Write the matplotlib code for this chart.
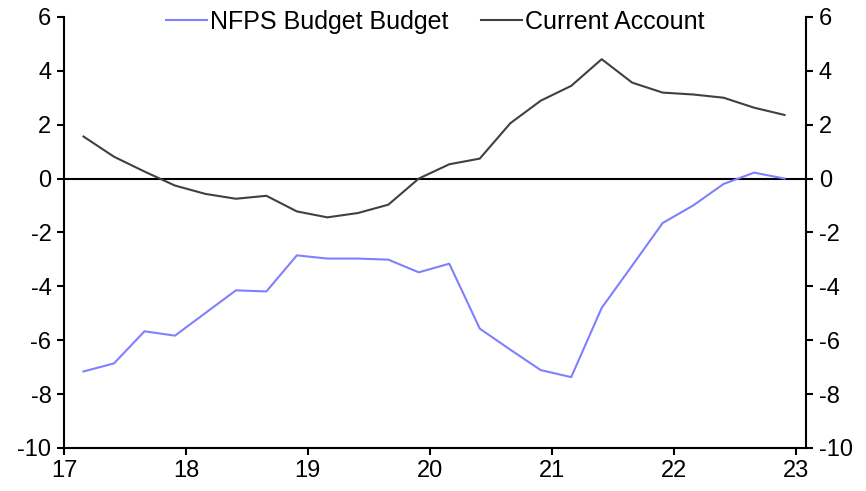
import matplotlib
matplotlib.use('Agg')
import matplotlib.pyplot as plt

plt.rcParams['font.family'] = ['Liberation Sans', 'DejaVu Sans']
plt.rcParams['axes.unicode_minus'] = False

# quarterly data, 2017Q1 .. 2022Q4 (% of GDP)
years = [2017, 2018, 2019, 2020, 2021, 2022]
quarters = [1, 2, 3, 4]
nfps_budget = [-7.16, -6.86, -5.67, -5.83,
               -4.99, -4.15, -4.19, -2.85,
               -2.97, -2.97, -3.01, -3.48,
               -3.16, -5.57, -6.35, -7.11,
               -7.37, -4.80, -3.23, -1.65,
               -1.00, -0.20, 0.22, 0.0]
current_account = [1.56, 0.81, 0.26, -0.26,
                   -0.57, -0.75, -0.64, -1.22,
                   -1.44, -1.28, -0.97, 0.0,
                   0.53, 0.74, 2.05, 2.89,
                   3.44, 4.43, 3.56, 3.19,
                   3.12, 3.00, 2.63, 2.36]
xtick_labels = ['17', '18', '19', '20', '21', '22', '23']

# dates as decimal years (two-digit), middle month of each quarter
x = [y - 2000 + (q - 1) / 4 + 0.16 for y in years for q in quarters]

fig = plt.figure(figsize=(8.66, 4.91), dpi=100)
ax = fig.add_axes([0.0739, 0.0876, 0.857, 0.878])

ax.axhline(0, color='black', lw=1.5, zorder=1)
ax.plot(x, nfps_budget, color='#8080ff', lw=1.5, label='NFPS Budget Budget')
ax.plot(x, current_account, color='#404040', lw=1.5, label='Current Account')

ax.set_xlim(17, 23.087)
ax.set_ylim(-10, 6)
ax.set_yticks(range(-10, 7, 2))
ax.set_xticks(range(17, 24))
ax.set_xticklabels(xtick_labels)

for side in ['left', 'right', 'bottom']:
    ax.spines[side].set_linewidth(1.5)
ax.spines['top'].set_visible(False)
ax.tick_params(axis='both', labelsize=17, width=1.5, length=5, direction='out')
ax.tick_params(axis='y', which='both', left=True, right=True,
               labelleft=True, labelright=True, pad=4)

ax.legend(loc='upper center', bbox_to_anchor=(0.5, 1.068), ncol=2,
          frameon=False, fontsize=18, handlelength=1.65, handletextpad=0.1,
          columnspacing=1.3)

fig.savefig('out.png', dpi=100)
